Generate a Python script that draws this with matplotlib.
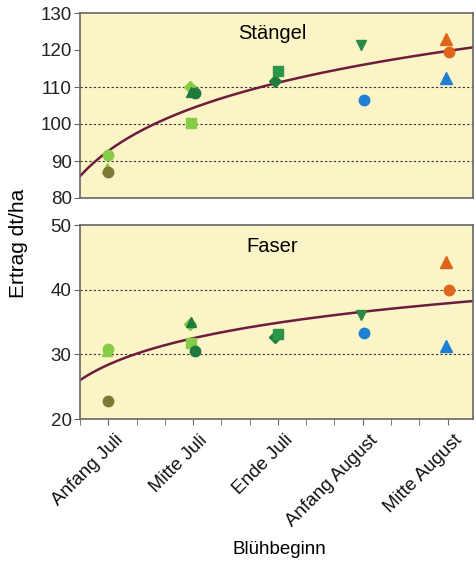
import numpy as np
import matplotlib
matplotlib.use('Agg')
import matplotlib.pyplot as plt
import matplotlib.transforms as mtransforms

plt.rcParams['font.family'] = ['Liberation Sans', 'DejaVu Sans']

# Blühbeginn categories
categories = ['Anfang Juli', 'Mitte Juli', 'Ende Juli', 'Anfang August', 'Mitte August']

# each point: position on the Blühbeginn axis, Stängel yield, Faser yield
point_pos = [1.0, 0.98, 1.0, 1.96, 1.98, 1.98, 2.02, 2.96, 3.0, 3.98, 4.02, 4.98, 5.02, 4.98]
stem_vals = [91.6, 88.1, 87.0, 110.0, 100.3, 108.6, 108.4, 111.6, 114.3, 121.4, 106.5, 123.0, 119.5, 112.4]
fibre_vals = [30.8, 30.5, 22.8, 34.7, 31.8, 35.0, 30.5, 32.7, 33.2, 36.1, 33.3, 44.3, 40.0, 31.3]

# logarithmic trend lines: y = a + b*ln(x)
stem_trend = (92.7, 16.8)
fibre_trend = (28.4, 5.9)

# styles per point
markers = ['o', '^', 'o', 'D', 's', '^', 'o', 'D', 's', 'v', 'o', '^', 'o', '^']
colors = ['#86cc46', '#86cc46', '#7d7a34', '#86cc46', '#86cc46', '#1f7a3e', '#1f7a3e',
          '#1f7a3e', '#2c9548', '#2b8a45', '#1f7fd2', '#e0651c', '#e0651c', '#1f7fd2']
sizes = [7.5, 7.5, 7.5, 6.5, 6.5, 7.5, 7.5, 6.5, 6.5, 7.5, 7.5, 8, 7.5, 8]

bg = '#fbf4c6'
curve_col = '#6e1c3e'

fig = plt.figure(figsize=(4.76, 5.62), dpi=100)
ax1 = fig.add_axes([80 / 476, 1 - 198 / 562, 393 / 476, 185 / 562])
ax2 = fig.add_axes([80 / 476, 1 - 419 / 562, 393 / 476, 194 / 562])

xmin, xmax = 2 / 3, 5.3
xs = np.linspace(xmin, xmax, 200)

panels = [(ax1, stem_vals, stem_trend, (80, 130), [80, 90, 100, 110, 120, 130], [90, 100, 110], 'Stängel', 0.89),
          (ax2, fibre_vals, fibre_trend, (20, 50), [20, 30, 40, 50], [30, 40], 'Faser', 0.887)]

for ax, vals, trend, ylim, yticks, glines, title, ty in panels:
    ax.set_facecolor(bg)
    for g in glines:
        ax.axhline(g, color='#333333', ls=(0, (2, 2)), lw=0.8, zorder=1)
    ax.plot(xs, trend[0] + trend[1] * np.log(xs), color=curve_col, lw=1.8, zorder=2)
    for x, v, m, c, s in zip(point_pos, vals, markers, colors, sizes):
        ax.plot(x, v, marker=m, color=c, markersize=s, ls='none', zorder=3)
    ax.set_xlim(xmin, xmax)
    ax.set_ylim(*ylim)
    ax.set_yticks(yticks)
    ax.tick_params(axis='y', labelsize=13.5, direction='out', length=4, pad=2,
                   color='#666666', labelcolor='#222222')
    for s in ax.spines.values():
        s.set_color('#666666')
        s.set_linewidth(1.2)
    ax.text(0.49, ty, title, transform=ax.transAxes, ha='center', va='center', fontsize=14.5)

ax1.set_xticks([])
ax2.set_xticks(np.arange(1, 6), labels=categories)
ax2.set_xticks(np.arange(2, 16) / 3, minor=True)
ax2.tick_params(axis='x', which='both', direction='out', length=4, color='#666666')
shift = mtransforms.ScaledTranslation(6 / 100, -2 / 100, fig.dpi_scale_trans)
for lab in ax2.get_xticklabels():
    lab.set_rotation(45)
    lab.set_ha('right')
    lab.set_rotation_mode('anchor')
    lab.set_fontsize(13.5)
    lab.set_color('#111111')
    lab.set_transform(lab.get_transform() + shift)

fig.text(0.038, 1 - 243 / 562, 'Ertrag dt/ha', rotation=90, ha='center', va='center', fontsize=15)
fig.text(279 / 476, 1 - 550 / 562, 'Blühbeginn', ha='center', va='center', fontsize=13.5)

plt.savefig('out.png', dpi=100)
